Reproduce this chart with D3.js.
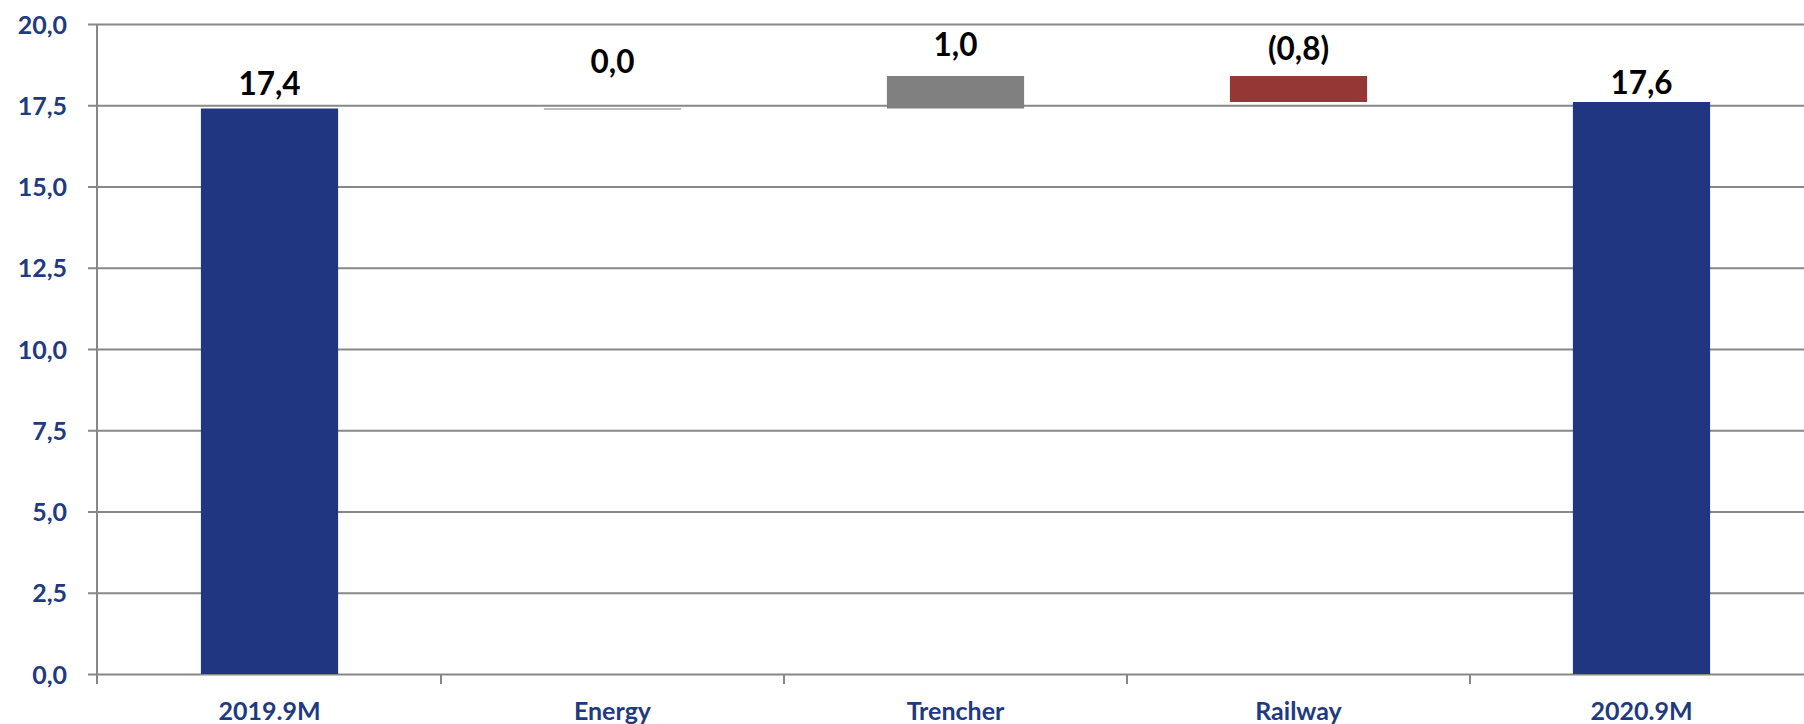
<!DOCTYPE html>
<html>
<head>
<meta charset="utf-8">
<script src="https://cdn.jsdelivr.net/npm/d3@7"></script>
<style>
  html, body { margin: 0; padding: 0; background: #ffffff; }
  svg { display: block; }
</style>
</head>
<body>
<svg id="chart" width="1804" height="724"></svg>
<script>
// Waterfall bridge: 2019.9M -> segment changes -> 2020.9M
const categories = ["2019.9M", "Energy", "Trencher", "Railway", "2020.9M"];
const changes    = [17.4, 0.0, 1.0, -0.8, 17.6];
const kinds      = ["total", "delta", "delta", "delta", "total"];
const valueLabels = ["17,4", "0,0", "1,0", "(0,8)", "17,6"];
const yTicks     = [0, 2.5, 5, 7.5, 10, 12.5, 15, 17.5, 20];

// Build bar extents (start / end) from the running total
let running = 0;
const bars = categories.map((c, i) => {
  let start, end;
  if (kinds[i] === "total") { start = 0; end = changes[i]; running = changes[i]; }
  else { start = running; end = running + changes[i]; running = end; }
  return { cat: c, value: changes[i], start, end, label: valueLabels[i], kind: kinds[i] };
});

const W = 1804, H = 724;
const plot = { left: 98, right: 1813, top: 24, bottom: 674 };

const svg = d3.select("#chart");

const slot = d3.scaleBand().domain(categories).range([plot.left, plot.right]);
const y = d3.scaleLinear().domain([0, 20]).range([plot.bottom, plot.top]);

const barShare = 0.4;
const barW = slot.bandwidth() * barShare;
const barX = c => slot(c) + (slot.bandwidth() - barW) / 2;

const colorOf = (b) => {
  if (b.kind === "total") return "#203681";
  if (b.value > 0) return "#808080";
  if (b.value < 0) return "#953735";
  return "#a6a6a6";
};

const font = "Lato, 'Open Sans', 'DejaVu Sans', sans-serif";
const axisBlue = "#1f3a80";
const gridGrey = "#878787";

// Horizontal gridlines with left tick stubs
const yAxis = d3.axisLeft(y)
  .tickValues(yTicks)
  .tickSize(-(W - plot.left + 10))
  .tickPadding(21)
  .tickFormat(d => d3.format(".1f")(d).replace(".", ","));

const gy = svg.append("g")
  .attr("transform", `translate(${plot.left - 10},0)`)
  .call(yAxis);
gy.select(".domain").remove();
gy.selectAll(".tick line")
  .attr("stroke", gridGrey)
  .attr("stroke-width", 2)
  .attr("x1", 0);
gy.selectAll(".tick text")
  .attr("fill", axisBlue)
  .style("font-family", font)
  .style("font-weight", "bold")
  .style("font-size", "25px")
  .attr("dy", "0.36em");

// Vertical axis line
svg.append("line")
  .attr("x1", plot.left - 1).attr("x2", plot.left - 1)
  .attr("y1", y(20)).attr("y2", plot.bottom + 10)
  .attr("stroke", gridGrey).attr("stroke-width", 2);

// Category tick marks at slot boundaries
svg.append("g").selectAll("line")
  .data(categories.slice(1))
  .join("line")
  .attr("x1", c => Math.round(slot(c)))
  .attr("x2", c => Math.round(slot(c)))
  .attr("y1", plot.bottom)
  .attr("y2", plot.bottom + 10)
  .attr("stroke", gridGrey).attr("stroke-width", 2);

// Bars
svg.append("g").selectAll("rect")
  .data(bars.filter(b => b.value !== 0))
  .join("rect")
  .attr("x", b => barX(b.cat))
  .attr("width", barW)
  .attr("y", b => y(Math.max(b.start, b.end)))
  .attr("height", b => Math.abs(y(b.start) - y(b.end)))
  .attr("fill", colorOf);

// Zero-change segments drawn as a thin level line
svg.append("g").selectAll("line")
  .data(bars.filter(b => b.value === 0))
  .join("line")
  .attr("x1", b => barX(b.cat))
  .attr("x2", b => barX(b.cat) + barW)
  .attr("y1", b => y(b.end) + 0.5)
  .attr("y2", b => y(b.end) + 0.5)
  .attr("stroke", colorOf)
  .attr("stroke-width", 1.5);

// Value labels above each bar
const labelGap = { "2019.9M": 14, "Energy": 36, "Trencher": 20, "Railway": 16, "2020.9M": 8 };
svg.append("g").selectAll("text")
  .data(bars)
  .join("text")
  .attr("x", b => slot(b.cat) + slot.bandwidth() / 2)
  .attr("y", b => y(Math.max(b.start, b.end)) - labelGap[b.cat])
  .attr("text-anchor", "middle")
  .attr("fill", "#000000")
  .style("font-family", font)
  .style("font-weight", "bold")
  .style("font-size", "31.5px")
  .text(b => b.label);

// Category labels
svg.append("g").selectAll("text")
  .data(categories)
  .join("text")
  .attr("x", c => slot(c) + slot.bandwidth() / 2)
  .attr("y", plot.bottom + 46)
  .attr("text-anchor", "middle")
  .attr("fill", axisBlue)
  .style("font-family", font)
  .style("font-weight", "bold")
  .style("font-size", "25px")
  .text(c => c);
</script>
</body>
</html>
